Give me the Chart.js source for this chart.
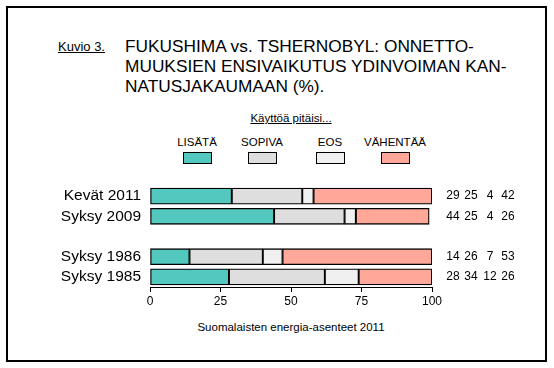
<!DOCTYPE html>
<html>
<head>
<meta charset="utf-8">
<script src="https://cdn.jsdelivr.net/npm/chart.js@4/dist/chart.umd.min.js"></script>
<style>
  html, body { margin: 0; padding: 0; background: #fff; }
  body { width: 554px; height: 368px; position: relative; overflow: hidden; font-family: "Liberation Sans", Arial, sans-serif; color: #000; }
  #frame { position: absolute; left: 6px; top: 6px; width: 541px; height: 356px; border: 2px solid #000; box-sizing: border-box; }
  #kuvio { position: absolute; left: 58px; top: 39px; font-size: 13px; text-decoration: underline; }
  #otsikko { position: absolute; left: 125px; top: 36px; font-size: 17.3px; line-height: 20px; white-space: nowrap; }
  #kysymys { position: absolute; left: 0; width: 582px; text-align: center; top: 112px; font-size: 11.5px; text-decoration: underline; }
  .leg { position: absolute; top: 136px; width: 80px; text-align: center; font-size: 11.5px; }
  .leg i { display: block; margin: 4px auto 0; width: 29px; height: 12px; border: 1.5px solid #000; box-sizing: border-box; }
  #xotsikko { position: absolute; left: 0; width: 582px; text-align: center; top: 321px; font-size: 11.5px; }
  #c { position: absolute; left: 0; top: 0; }
</style>
</head>
<body>
<div id="frame"></div>
<div id="kuvio">Kuvio 3.</div>
<div id="otsikko">FUKUSHIMA vs. TSHERNOBYL: ONNETTO-<br>MUUKSIEN ENSIVAIKUTUS YDINVOIMAN KAN-<br>NATUSJAKAUMAAN (%).</div>
<div id="kysymys">Käyttöä pitäisi...</div>
<div id="legend"></div>
<div id="xotsikko">Suomalaisten energia-asenteet 2011</div>
<canvas id="c" width="554" height="368"></canvas>
<script>
const kategoriat = ['Kevät 2011', 'Syksy 2009', '', 'Syksy 1986', 'Syksy 1985'];
const sarjat = ['LISÄTÄ', 'SOPIVA', 'EOS', 'VÄHENTÄÄ'];
const lisata = [29, 44, null, 14, 28];
const sopiva = [25, 25, null, 26, 34];
const eos = [4, 4, null, 7, 12];
const vahentaa = [42, 26, null, 53, 26];
const xTikit = [0, 25, 50, 75, 100];

const varit = ['#53c8be', '#dedede', '#f0f0f0', '#ffa899'];
const arvot = [lisata, sopiva, eos, vahentaa];

Chart.defaults.font.family = "'Liberation Sans', Arial, sans-serif";
Chart.defaults.color = '#000';

// legenda html:nä
const legendPaikat = [157, 222, 290, 355];
const legendEl = document.getElementById('legend');
sarjat.forEach(function(nimi, i) {
    const d = document.createElement('div');
    d.className = 'leg';
    d.style.left = legendPaikat[i] + 'px';
    d.innerHTML = nimi + '<i style="background:' + varit[i] + '"></i>';
    legendEl.appendChild(d);
});

// numerot palkkien oikealla puolella
const sarakkeet = [453, 471, 490, 508];
const numerotPlugin = {
    id: 'numerot',
    afterDatasetsDraw(chart) {
        const ctx = chart.ctx;
        const y = chart.scales.y;
        ctx.save();
        ctx.font = "12px 'Liberation Sans', Arial, sans-serif";
        ctx.fillStyle = '#000';
        ctx.textAlign = 'center';
        ctx.textBaseline = 'middle';
        kategoriat.forEach(function(k, i) {
            if (!k) return;
            const py = y.getPixelForValue(i);
            arvot.forEach(function(sarja, j) {
                ctx.fillText(String(sarja[i]), sarakkeet[j], py);
            });
        });
        ctx.restore();
    }
};

new Chart(document.getElementById('c'), {
    type: 'bar',
    data: {
        labels: kategoriat,
        datasets: sarjat.map(function(nimi, i) {
            return {
                label: nimi,
                data: arvot[i],
                backgroundColor: varit[i],
                borderColor: '#000',
                borderWidth: 1.3,
                borderSkipped: false,
                barThickness: 16
            };
        })
    },
    options: {
        indexAxis: 'y',
        responsive: false,
        animation: false,
        events: [],
        layout: { padding: { left: 50, right: 122, top: 186, bottom: 61 } },
        plugins: { legend: { display: false }, tooltip: { enabled: false } },
        scales: {
            x: {
                stacked: true,
                min: 0,
                max: 100,
                afterBuildTicks: function(s) { s.ticks = xTikit.map(v => ({ value: v })); },
                afterFit: function(s) { s.height = 20; },
                border: { display: true, color: '#000', width: 1 },
                grid: { drawOnChartArea: false, drawTicks: true, tickLength: 5, color: '#000' },
                ticks: { color: '#000', padding: 2, font: { size: 12 } }
            },
            y: {
                stacked: true,
                afterFit: function(s) { s.width = 100; },
                border: { display: false },
                grid: { display: false, drawTicks: false },
                ticks: { color: '#000', padding: 9, autoSkip: false, font: { size: 15.5 } }
            }
        }
    },
    plugins: [numerotPlugin]
});
</script>
</body>
</html>
